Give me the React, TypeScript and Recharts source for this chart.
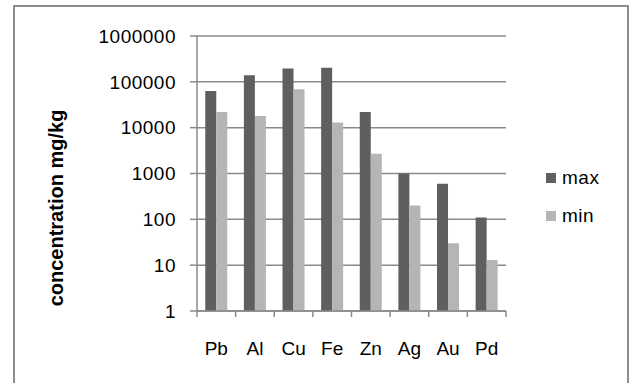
import React from 'react';
import { BarChart, Bar, XAxis, YAxis, CartesianGrid, Legend, Label } from 'recharts';

const categories = ['Pb', 'Al', 'Cu', 'Fe', 'Zn', 'Ag', 'Au', 'Pd'];
const maxValues = [63000, 140000, 196000, 202000, 22000, 1000, 600, 110];
const minValues = [22000, 18000, 69000, 13000, 2700, 200, 30, 13];
const yTicks = [1, 10, 100, 1000, 10000, 100000, 1000000];
const seriesNames = ['max', 'min'];
const seriesColors = ['#5f5f5f', '#b5b5b5'];

const data = categories.map((c, i) => ({ name: c, max: maxValues[i], min: minValues[i] }));

const W = 635;
const H = 383;
const PLOT_LEFT = 197;
const PLOT_RIGHT = 506;
const PLOT_TOP = 36;
const PLOT_BOTTOM = 311;
const BW = (PLOT_RIGHT - PLOT_LEFT) / categories.length;
const GRID = '#8a8a8a';
const FONT = '"Liberation Sans", Arial, sans-serif';

const XTick = (props: any) => {
  const { x, payload, index } = props;
  const last = index === categories.length - 1;
  return (
    <g>
      <line x1={x - BW / 2} x2={x - BW / 2} y1={PLOT_BOTTOM} y2={PLOT_BOTTOM + 6} stroke={GRID} strokeWidth={1.5} />
      {last && (
        <line x1={x + BW / 2} x2={x + BW / 2} y1={PLOT_BOTTOM} y2={PLOT_BOTTOM + 6} stroke={GRID} strokeWidth={1.5} />
      )}
      <text x={x} y={348} textAnchor="middle" dominantBaseline="central" fontSize={19} fontFamily={FONT} fill="#000">
        {payload.value}
      </text>
    </g>
  );
};

const LegendContent = () => (
  <div style={{ fontFamily: FONT, fontSize: 19, color: '#000' }}>
    {seriesNames.map((n, i) => (
      <div key={n} style={{ height: 38, display: 'flex', alignItems: 'center' }}>
        <div style={{ width: 10, height: 10, background: seriesColors[i], marginRight: 6 }} />
        <span style={{ letterSpacing: 0.5 }}>{n}</span>
      </div>
    ))}
  </div>
);

const YLabel = () => (
  <text
    x={56}
    y={208}
    transform="rotate(-90 56 208)"
    textAnchor="middle"
    dominantBaseline="central"
    fontSize={20}
    fontWeight="bold"
    fontFamily={FONT}
    fill="#000"
  >
    concentration mg/kg
  </text>
);

export default function App() {
  return (
    <div style={{ position: 'fixed', left: 0, top: 0, width: W, height: H, background: '#fff', overflow: 'hidden' }}>
      <div
        style={{
          position: 'absolute',
          left: 13,
          top: 5,
          width: 612,
          height: 420,
          border: '2px solid #8c8c8c',
          boxSizing: 'content-box',
        }}
      />
      <div style={{ position: 'absolute', left: 0, top: 0 }}>
        <BarChart
          width={W}
          height={H}
          data={data}
          margin={{ top: PLOT_TOP, right: W - PLOT_RIGHT, bottom: 0, left: 0 }}
          barCategoryGap="21.4%"
          barGap={0}
        >
          <CartesianGrid vertical={false} stroke={GRID} strokeWidth={1.5} />
          <XAxis
            dataKey="name"
            height={H - PLOT_BOTTOM}
            axisLine={{ stroke: GRID, strokeWidth: 1.5 }}
            tickLine={false}
            tick={<XTick />}
            interval={0}
          />
          <YAxis
            scale="log"
            domain={[1, 1000000]}
            ticks={yTicks}
            allowDataOverflow
            width={PLOT_LEFT}
            axisLine={{ stroke: GRID, strokeWidth: 1.5 }}
            tickLine={{ stroke: GRID, strokeWidth: 1.5 }}
            tickSize={7}
            tickMargin={14}
            interval={0}
            tick={{ fontSize: 19, fill: '#000', fontFamily: FONT, letterSpacing: 0.5 }}
          >
            <Label content={<YLabel />} />
          </YAxis>
          <Bar dataKey="max" fill={seriesColors[0]} isAnimationActive={false} />
          <Bar dataKey="min" fill={seriesColors[1]} isAnimationActive={false} />
          <Legend
            layout="vertical"
            align="center"
            verticalAlign="middle"
            content={<LegendContent />}
            wrapperStyle={{ position: 'absolute', left: 546, top: 159, width: 80, bottom: 'auto', right: 'auto' }}
          />
        </BarChart>
      </div>
    </div>
  );
}
